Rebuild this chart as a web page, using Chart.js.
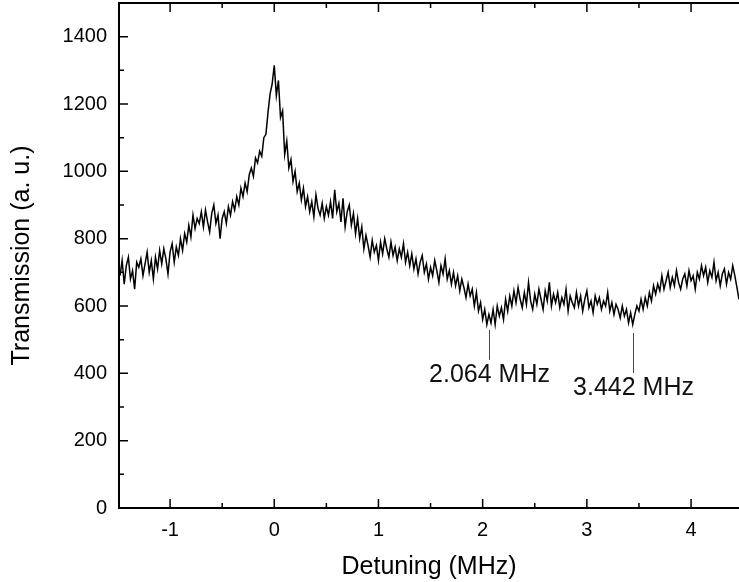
<!DOCTYPE html>
<html>
<head>
<meta charset="utf-8">
<script src="https://cdn.jsdelivr.net/npm/chart.js@4.4.0/dist/chart.umd.min.js"></script>
<style>
  html, body { margin: 0; padding: 0; background: #fff; overflow: hidden; }
  #wrap { width: 739px; height: 582px; }
</style>
</head>
<body>
<div id="wrap"><canvas id="myChart" width="739" height="582"></canvas></div>
<script>
// detuning in MHz
const detuning = [
  -1.48,-1.46,-1.44,-1.42,-1.40,-1.38,-1.36,-1.34,-1.32,-1.30,
  -1.28,-1.26,-1.24,-1.22,-1.20,-1.18,-1.16,-1.14,-1.12,-1.10,
  -1.08,-1.06,-1.04,-1.02,-1.00,-0.98,-0.96,-0.94,-0.92,-0.90,
  -0.88,-0.86,-0.84,-0.82,-0.80,-0.78,-0.76,-0.74,-0.72,-0.70,
  -0.68,-0.66,-0.64,-0.62,-0.60,-0.58,-0.56,-0.54,-0.52,-0.50,
  -0.48,-0.46,-0.44,-0.42,-0.40,-0.38,-0.36,-0.34,-0.32,-0.30,
  -0.28,-0.26,-0.24,-0.22,-0.20,-0.18,-0.16,-0.14,-0.12,-0.10,
  -0.08,-0.06,-0.04,-0.02,0.00,0.02,0.04,0.06,0.08,0.10,
  0.12,0.14,0.16,0.18,0.20,0.22,0.24,0.26,0.28,0.30,
  0.32,0.34,0.36,0.38,0.40,0.42,0.44,0.46,0.48,0.50,
  0.52,0.54,0.56,0.58,0.60,0.62,0.64,0.66,0.68,0.70,
  0.72,0.74,0.76,0.78,0.80,0.82,0.84,0.86,0.88,0.90,
  0.92,0.94,0.96,0.98,1.00,1.02,1.04,1.06,1.08,1.10,
  1.12,1.14,1.16,1.18,1.20,1.22,1.24,1.26,1.28,1.30,
  1.32,1.34,1.36,1.38,1.40,1.42,1.44,1.46,1.48,1.50,
  1.52,1.54,1.56,1.58,1.60,1.62,1.64,1.66,1.68,1.70,
  1.72,1.74,1.76,1.78,1.80,1.82,1.84,1.86,1.88,1.90,
  1.92,1.94,1.96,1.98,2.00,2.02,2.04,2.06,2.08,2.10,
  2.12,2.14,2.16,2.18,2.20,2.22,2.24,2.26,2.28,2.30,
  2.32,2.34,2.36,2.38,2.40,2.42,2.44,2.46,2.48,2.50,
  2.52,2.54,2.56,2.58,2.60,2.62,2.64,2.66,2.68,2.70,
  2.72,2.74,2.76,2.78,2.80,2.82,2.84,2.86,2.88,2.90,
  2.92,2.94,2.96,2.98,3.00,3.02,3.04,3.06,3.08,3.10,
  3.12,3.14,3.16,3.18,3.20,3.22,3.24,3.26,3.28,3.30,
  3.32,3.34,3.36,3.38,3.40,3.42,3.44,3.46,3.48,3.50,
  3.52,3.54,3.56,3.58,3.60,3.62,3.64,3.66,3.68,3.70,
  3.72,3.74,3.76,3.78,3.80,3.82,3.84,3.86,3.88,3.90,
  3.92,3.94,3.96,3.98,4.00,4.02,4.04,4.06,4.08,4.10,
  4.12,4.14,4.16,4.18,4.20,4.22,4.24,4.26,4.28,4.30,
  4.32,4.34,4.36,4.38,4.40,4.42,4.44,4.46
];

// transmission (a. u.)
const transmission = [
  690,735,665,720,745,680,705,650,730,715,
  740,690,725,760,700,735,680,745,710,765,
  725,770,740,695,760,785,730,775,750,800,
  765,815,790,840,805,870,830,860,845,880,
  835,885,850,820,875,900,845,870,800,860,
  880,845,895,870,910,885,925,900,950,925,
  965,940,990,1010,985,1040,1025,1060,1045,1100,
  1110,1175,1230,1260,1315,1225,1270,1160,1180,1050,
  1090,1010,1035,970,1000,940,965,915,950,895,
  925,880,910,865,930,890,870,905,860,895,
  870,910,860,945,880,905,850,920,835,880,
  900,840,875,815,860,800,835,770,810,780,
  745,795,760,780,735,790,755,800,770,745,
  790,750,775,735,770,745,785,730,760,720,
  755,710,740,695,730,750,700,725,680,715,
  690,735,705,670,720,695,740,680,705,665,
  700,660,690,645,680,655,625,665,630,650,
  600,640,585,610,560,590,545,575,550,590,
  545,600,570,595,560,620,585,630,600,645,
  610,655,620,595,640,605,670,615,590,635,
  605,650,620,590,645,615,670,600,635,610,
  640,595,625,605,650,585,630,610,595,640,
  600,630,585,620,645,595,615,580,630,605,
  625,590,615,600,640,585,610,575,605,590,
  565,600,570,590,550,580,545,575,600,585,
  620,590,625,600,640,615,660,635,665,645,
  690,650,675,700,655,685,660,705,670,650,
  680,695,660,705,675,690,650,700,680,720,
  690,715,670,705,685,730,675,700,660,695,
  710,665,700,680,720,690,655,620
];

const xMajorTicks = [-1, 0, 1, 2, 3, 4];
const xMinorTicks = [-0.5, 0.5, 1.5, 2.5, 3.5];
const yMajorTicks = [0, 200, 400, 600, 800, 1000, 1200, 1400];
const yMinorTicks = [100, 300, 500, 700, 900, 1100, 1300];

// marked dips
const markFreq = [2.064, 3.442];
const markLineTop = [529, 520];
const markLineBottom = [440, 401];
const markTextLevel = [395, 357];
const markLabels = ['2.064 MHz', '3.442 MHz'];

const FONT = '"Liberation Sans", Arial, sans-serif';

const frame = {
  id: 'frame',
  afterDraw(chart) {
    const {ctx, chartArea: a, scales: {x, y}} = chart;
    ctx.save();
    ctx.strokeStyle = '#000';
    ctx.lineWidth = 2;
    ctx.beginPath();
    ctx.moveTo(a.right + 2, a.top);
    ctx.lineTo(a.left, a.top);
    ctx.lineTo(a.left, a.bottom);
    ctx.lineTo(a.right + 2, a.bottom);
    ctx.stroke();

    ctx.lineWidth = 1.5;
    ctx.beginPath();
    xMajorTicks.forEach(v => {
      const px = x.getPixelForValue(v);
      ctx.moveTo(px, a.bottom); ctx.lineTo(px, a.bottom - 9);
      ctx.moveTo(px, a.top); ctx.lineTo(px, a.top + 9);
    });
    xMinorTicks.forEach(v => {
      const px = x.getPixelForValue(v);
      ctx.moveTo(px, a.bottom); ctx.lineTo(px, a.bottom - 5);
      ctx.moveTo(px, a.top); ctx.lineTo(px, a.top + 5);
    });
    yMajorTicks.forEach(v => {
      const py = y.getPixelForValue(v);
      ctx.moveTo(a.left, py); ctx.lineTo(a.left + 9, py);
    });
    yMinorTicks.forEach(v => {
      const py = y.getPixelForValue(v);
      ctx.moveTo(a.left, py); ctx.lineTo(a.left + 5, py);
    });
    ctx.stroke();

    // annotations
    ctx.strokeStyle = '#444';
    ctx.lineWidth = 1;
    ctx.fillStyle = '#111';
    ctx.font = '25px ' + FONT;
    ctx.textAlign = 'center';
    ctx.textBaseline = 'middle';
    markFreq.forEach((f, i) => {
      const px = Math.round(x.getPixelForValue(f)) + 0.5;
      ctx.beginPath();
      ctx.moveTo(px, y.getPixelForValue(markLineTop[i]));
      ctx.lineTo(px, y.getPixelForValue(markLineBottom[i]));
      ctx.stroke();
      ctx.fillText(markLabels[i], px, y.getPixelForValue(markTextLevel[i]));
    });
    ctx.restore();
  }
};

const ctx = document.getElementById('myChart');

new Chart(ctx, {
  type: 'line',
  data: {
    datasets: [{
      data: detuning.map((d, i) => ({x: d, y: transmission[i]})),
      borderColor: '#000',
      borderWidth: 1.5,
      pointRadius: 0,
      tension: 0,
      fill: false
    }]
  },
  options: {
    responsive: false,
    animation: false,
    layout: { padding: { top: 3, right: 0, left: 0, bottom: 0 } },
    plugins: {
      legend: { display: false },
      tooltip: { enabled: false }
    },
    scales: {
      x: {
        type: 'linear',
        min: -1.49,
        max: 4.46,
        afterFit: s => { s.height = 74; s.paddingLeft = 0; s.paddingRight = 0; },
        grid: { display: false, drawTicks: false },
        border: { display: false },
        ticks: {
          stepSize: 1,
          includeBounds: false,
          padding: 10,
          color: '#000',
          font: { family: FONT, size: 20 },
          maxRotation: 0,
          callback: v => String(v)
        },
        title: {
          display: true,
          text: 'Detuning (MHz)',
          color: '#000',
          font: { family: FONT, size: 25 },
          padding: { top: 0, bottom: 0 }
        }
      },
      y: {
        min: 0,
        max: 1500,
        afterFit: s => { s.width = 119; s.paddingTop = 0; s.paddingBottom = 0; },
        grid: { display: false, drawTicks: false },
        border: { display: false },
        ticks: {
          stepSize: 200,
          includeBounds: false,
          padding: 12,
          color: '#000',
          font: { family: FONT, size: 20 },
          callback: v => String(v)
        },
        title: {
          display: true,
          text: 'Transmission (a. u.)',
          color: '#000',
          font: { family: FONT, size: 25 },
          padding: { top: 7, bottom: 0 }
        }
      }
    }
  },
  plugins: [frame]
});
</script>
</body>
</html>
